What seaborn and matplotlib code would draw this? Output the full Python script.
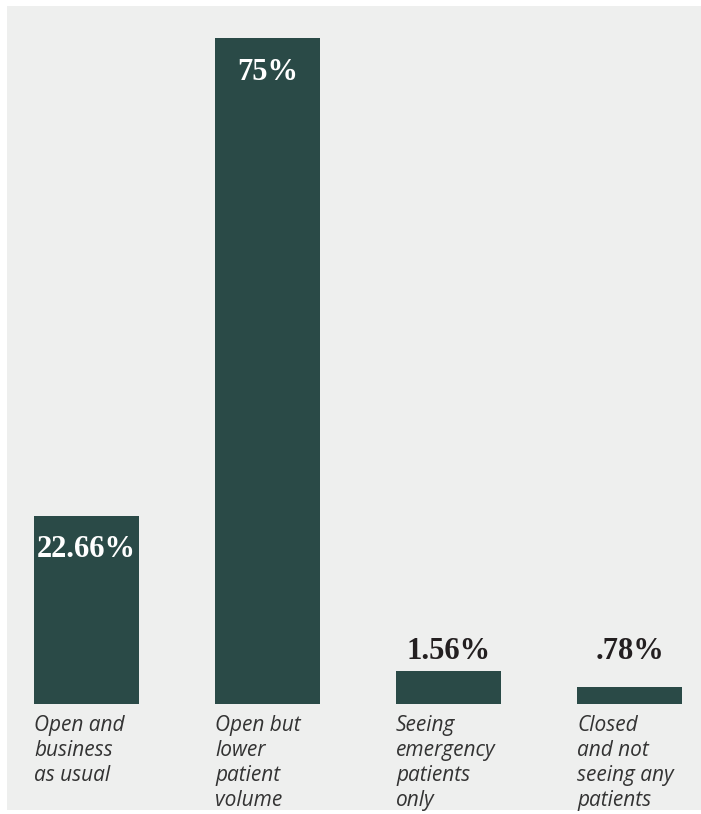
import matplotlib
matplotlib.use("Agg")
import matplotlib.pyplot as plt
import matplotlib.transforms as mtransforms
from matplotlib.patches import Rectangle
import seaborn as sns
import pandas as pd

# ---- data ----
categories = ["Open and\nbusiness\nas usual",
              "Open but\nlower\npatient\nvolume",
              "Seeing\nemergency\npatients\nonly",
              "Closed\nand not\nseeing any\npatients"]
value_labels = ["22.66%", "75%", "1.56%", ".78%"]
bar_heights = [21.2, 75.0, 3.7, 1.9]   # bar lengths as drawn in the picture
inside = [True, True, False, False]

BAR = "#2a4a47"
BG = "#eeefee"
W, H = 701, 814

sns.set_theme(style="white")
fig = plt.figure(figsize=(W / 100, H / 100), dpi=100, facecolor="white")
fig.patches.append(Rectangle((7 / W, 1 - 810 / H), (W - 7) / W, (810 - 6) / H,
                             transform=fig.transFigure, facecolor=BG,
                             edgecolor="none", zorder=-10))

ax = fig.add_axes([7 / W, 1 - 704 / H, (W - 7) / W, (704 - 38) / H])
ax.set_facecolor("none")
ax.set_zorder(5)

df = pd.DataFrame({"cat": categories, "h": bar_heights})
width = 0.58
sns.barplot(data=df, x="cat", y="h", color=BAR, width=width, saturation=1,
            ax=ax, edgecolor="none", linewidth=0)

ax.set_xlim(-0.439, 3.395)
ax.set_ylim(0, 75)
for s in ax.spines.values():
    s.set_visible(False)
ax.set_xticks([])
ax.set_yticks([])
ax.set_xlabel("")
ax.set_ylabel("")

outer_top = max(h for h, ins in zip(bar_heights, inside) if not ins)
for i, (lab, h, ins) in enumerate(zip(value_labels, bar_heights, inside)):
    if ins:
        ax.annotate(lab, (i, h), xytext=(0, -24.5), textcoords="offset points",
                    ha="center", va="center", color="white",
                    fontsize=22, fontweight="bold", family="Liberation Serif")
    else:
        ax.annotate(lab, (i, outer_top), xytext=(0, 14), textcoords="offset points",
                    ha="center", va="center", color="#231f20",
                    fontsize=22, fontweight="bold", family="Liberation Serif")

trans = mtransforms.offset_copy(ax.transData, fig=fig, x=0, y=-11, units="dots")
for i, cat in enumerate(categories):
    ax.text(i - width / 2, 0, cat, transform=trans, ha="left", va="top",
            fontsize=15, style="italic", family="Open Sans", color="#333333",
            linespacing=1.26, clip_on=False)

fig.savefig("out.png", dpi=100, facecolor="white")
